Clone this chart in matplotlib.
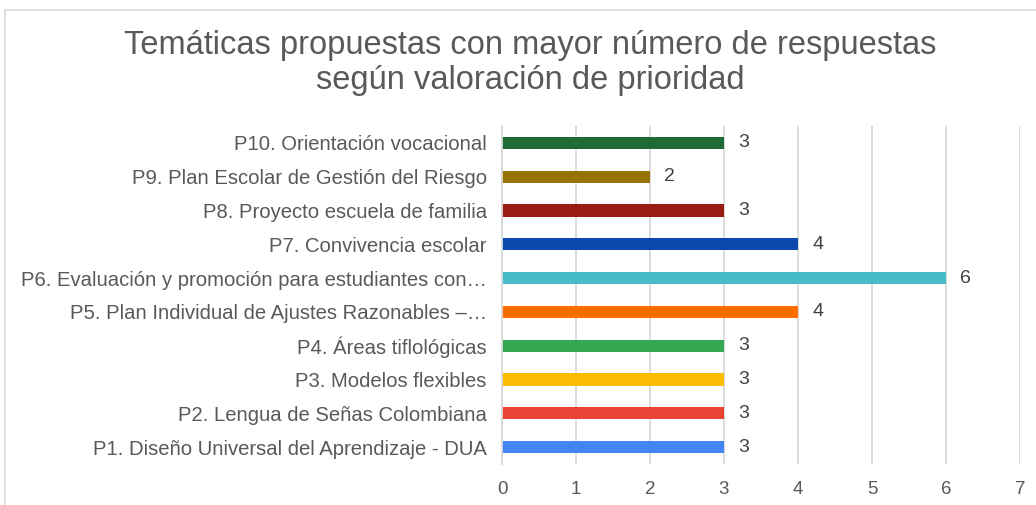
import matplotlib.pyplot as plt
from matplotlib.patches import Rectangle

# Temáticas, de abajo (P1) hacia arriba (P10)
temas = [
    "P1. Diseño Universal del Aprendizaje - DUA",
    "P2. Lengua de Señas Colombiana",
    "P3. Modelos flexibles",
    "P4. Áreas tiflológicas",
    "P5. Plan Individual de Ajustes Razonables –…",
    "P6. Evaluación y promoción para estudiantes con…",
    "P7. Convivencia escolar",
    "P8. Proyecto escuela de familia",
    "P9. Plan Escolar de Gestión del Riesgo",
    "P10. Orientación vocacional",
]
respuestas = [3, 3, 3, 3, 4, 6, 4, 3, 2, 3]
colores = ["#4285f4", "#ea4335", "#fbbc04", "#34a853", "#ff6d00",
           "#46bdc6", "#0b4aad", "#9b1c14", "#967200", "#1f6a35"]
ticks_x = [0, 1, 2, 3, 4, 5, 6, 7]

plt.rcParams['font.family'] = ['Liberation Sans', 'DejaVu Sans']

fig = plt.figure(figsize=(10.36, 5.05), dpi=100)
fig.patches.append(Rectangle((5 / 1036, -0.1), 1.1, 1 - 10 / 505 + 0.1,
                             transform=fig.transFigure, fill=False,
                             edgecolor="#d9d9d9", linewidth=1.2))

ax = fig.add_axes([502 / 1036, 1 - 464 / 505, 518 / 1036, 338 / 505])
pos = list(range(len(temas)))
ax.barh(pos, respuestas, height=0.36, color=colores, zorder=2)
for y, v in zip(pos, respuestas):
    ax.text(v + 0.19, y, str(v), va="center", ha="left",
            fontsize=14, color="#404040")

ax.set_xlim(0, 7)
ax.set_ylim(-0.5, len(temas) - 0.5)
ax.set_xticks(ticks_x)
ax.set_yticks(pos)
ax.set_yticklabels(temas, fontsize=14.6)
ax.tick_params(axis="both", length=0, labelcolor="#595959")
ax.tick_params(axis="x", pad=12, labelsize=13.5)
ax.tick_params(axis="y", pad=11)
ax.grid(axis="x", color="#d9d9d9", linewidth=1.3, zorder=0)
ax.set_axisbelow(True)
for s in ["top", "right", "bottom"]:
    ax.spines[s].set_visible(False)
ax.spines["left"].set_color("#d9d9d9")
ax.spines["left"].set_linewidth(1.3)
ax.spines["left"].set_zorder(3)

fig.text(530 / 1036, 1 - 63 / 505,
         "Temáticas propuestas con mayor número de respuestas\nsegún valoración de prioridad",
         ha="center", va="center", fontsize=23.5, color="#595959",
         linespacing=1.17)

fig.savefig("out.png", dpi=100)
